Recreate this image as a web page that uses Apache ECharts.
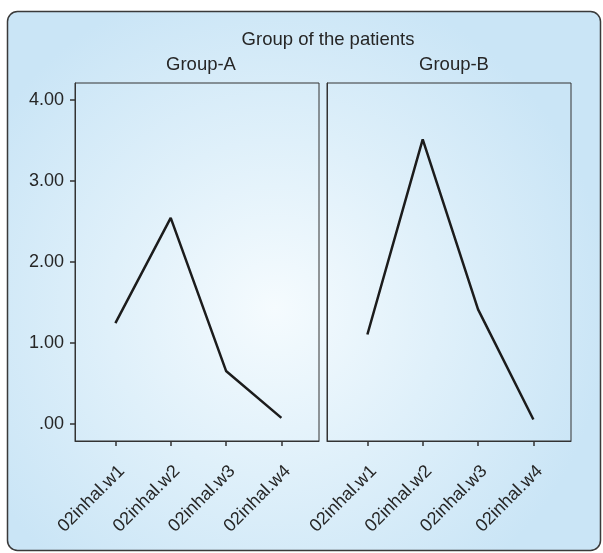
<!DOCTYPE html>
<html>
<head>
<meta charset="utf-8">
<script src="https://cdn.jsdelivr.net/npm/echarts@6/dist/echarts.min.js"></script>
<style>
html,body{margin:0;padding:0;background:#fff;}
#c{width:603px;height:553px;}
</style>
</head>
<body>
<div id="c"></div>
<script>
const categories = ['02inhal.w1', '02inhal.w2', '02inhal.w3', '02inhal.w4'];
const groupA = [1.24, 2.54, 0.65, 0.07];
const groupB = [1.10, 3.51, 1.41, 0.05];
const yTicks = [0, 1, 2, 3, 4];
const panelNames = ['Group-A', 'Group-B'];
const mainTitle = 'Group of the patients';

const FONT = '"Liberation Sans", Arial, sans-serif';
const FS = 18.5;
const TXT = '#262626';
const catIdx = categories.map((c, i) => i + 1);

function xAxis(gi) {
  return {
    type: 'value', gridIndex: gi, min: 0.27, max: 4.68,
    splitLine: { show: false },
    axisLine: { show: true, onZero: false, lineStyle: { color: '#333', width: 1 } },
    axisTick: { show: true, length: 5, customValues: catIdx, lineStyle: { color: '#333', width: 1.5 } },
    axisLabel: {
      customValues: catIdx, rotate: 45, margin: 21, verticalAlign: 'top',
      fontFamily: FONT, fontSize: 18, color: TXT,
      formatter: v => categories[Math.round(v) - 1] || ''
    }
  };
}
function yAxis(gi, showLabels) {
  return {
    type: 'value', gridIndex: gi, min: -0.215, max: 4.205,
    splitLine: { show: false },
    axisLine: { show: true, onZero: false, lineStyle: { color: '#333', width: 1 } },
    axisTick: { show: showLabels, length: 5, customValues: yTicks, lineStyle: { color: '#333', width: 1.5 } },
    axisLabel: {
      show: showLabels, customValues: yTicks, margin: 11,
      fontFamily: FONT, fontSize: 18, color: TXT,
      formatter: v => v === 0 ? '.00' : v.toFixed(2)
    }
  };
}

const chart = echarts.init(document.getElementById('c'), null, { renderer: 'canvas' });
chart.setOption({
  animation: false,
  backgroundColor: '#ffffff',
  graphic: [{
    type: 'rect', z: -10, silent: true,
    shape: { x: 7.5, y: 11.5, width: 593, height: 539, r: 10 },
    style: {
      fill: {
        type: 'radial', x: 0.45, y: 0.55, r: 0.62,
        colorStops: [
          { offset: 0, color: '#f5fbfe' },
          { offset: 0.5, color: '#dff0fa' },
          { offset: 1, color: '#cae5f6' }
        ]
      },
      stroke: '#3a3a3a', lineWidth: 1.5
    }
  }],
  title: [
    { text: mainTitle, left: 323, top: 25, textAlign: 'center',
      textStyle: { fontFamily: FONT, fontSize: FS, fontWeight: 'normal', color: TXT } },
    { text: panelNames[0], left: 196, top: 50, textAlign: 'center',
      textStyle: { fontFamily: FONT, fontSize: FS, fontWeight: 'normal', color: TXT } },
    { text: panelNames[1], left: 449, top: 50, textAlign: 'center',
      textStyle: { fontFamily: FONT, fontSize: FS, fontWeight: 'normal', color: TXT } }
  ],
  grid: [
    { left: 75, top: 83, width: 244, height: 358, show: true, borderColor: '#333', borderWidth: 1, backgroundColor: 'transparent' },
    { left: 327, top: 83, width: 244, height: 358, show: true, borderColor: '#333', borderWidth: 1, backgroundColor: 'transparent' }
  ],
  xAxis: [xAxis(0), xAxis(1)],
  yAxis: [yAxis(0, true), yAxis(1, false)],
  series: [
    { type: 'line', xAxisIndex: 0, yAxisIndex: 0, symbol: 'none',
      lineStyle: { color: '#1c1c1c', width: 2.5 },
      data: groupA.map((v, i) => [catIdx[i], v]) },
    { type: 'line', xAxisIndex: 1, yAxisIndex: 1, symbol: 'none',
      lineStyle: { color: '#1c1c1c', width: 2.5 },
      data: groupB.map((v, i) => [catIdx[i], v]) }
  ]
});
</script>
</body>
</html>
